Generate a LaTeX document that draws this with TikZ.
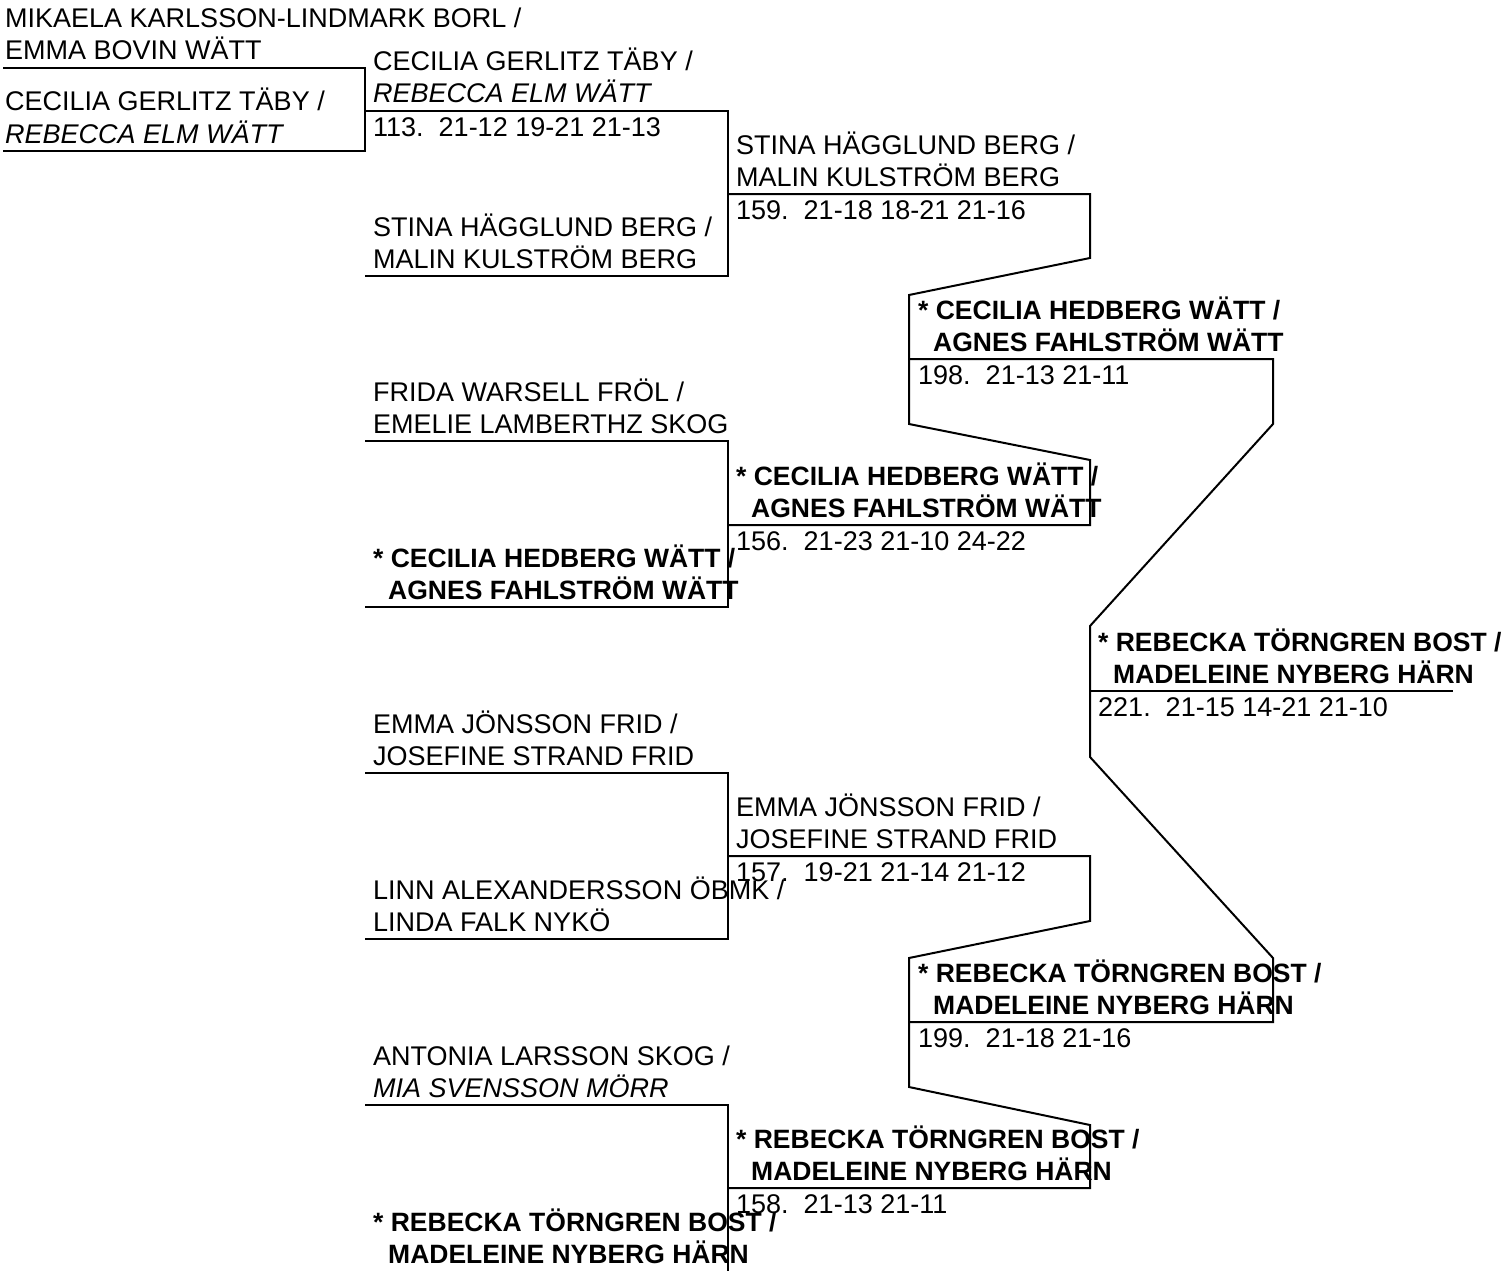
\documentclass[tikz,border=0pt]{standalone}
\usepackage{fontspec}
\setmainfont{Liberation Sans}
\begin{document}
\begin{tikzpicture}[x=1pt, y=-1pt,
    team/.style={anchor=base west, inner sep=0pt, font=\fontsize{27}{32}\selectfont},
    teamit/.style={team, font=\fontsize{27}{32}\selectfont\itshape},
    champ/.style={team, font=\fontsize{26.5}{32}\selectfont\bfseries},
    result/.style={team},
    bracket/.style={line width=2pt}]
    \useasboundingbox (0,0) rectangle (1512,1271);

    % round 1
    \draw[bracket] (3,68) -- (365,68) -- (365,151) -- (3,151);
    \node[team] (a1) at (5,28) {MIKAELA KARLSSON-LINDMARK BORL /};
    \node[team] (a2) at (5,60) {EMMA BOVIN WÄTT};
    \node[team] (b1) at (5,111) {CECILIA GERLITZ TÄBY /};
    \node[teamit] (b2) at (5,143) {REBECCA ELM WÄTT};

    % round 2
    \draw[bracket] (365,111) -- (728,111) -- (728,276) -- (365,276);
    \draw[bracket] (365,441) -- (728,441) -- (728,607) -- (365,607);
    \draw[bracket] (365,773) -- (728,773) -- (728,939) -- (365,939);
    \draw[bracket] (365,1105) -- (728,1105) -- (728,1272);
    \node[team] (c1) at (373,71) {CECILIA GERLITZ TÄBY /};
    \node[teamit] (c2) at (373,103) {REBECCA ELM WÄTT};
    \node[result] (s113) at (373,136) {113.\ \ 21-12 19-21 21-13};
    \node[team] (d1) at (373,236) {STINA HÄGGLUND BERG /};
    \node[team] (d2) at (373,268) {MALIN KULSTRÖM BERG};
    \node[team] (e1) at (373,401) {FRIDA WARSELL FRÖL /};
    \node[team] (e2) at (373,433) {EMELIE LAMBERTHZ SKOG};
    \node[champ] (f1) at (373,567) {* CECILIA HEDBERG WÄTT /};
    \node[champ] (f2) at (373,599) {\hspace*{15pt}AGNES FAHLSTRÖM WÄTT};
    \node[team] (g1) at (373,733) {EMMA JÖNSSON FRID /};
    \node[team] (g2) at (373,765) {JOSEFINE STRAND FRID};
    \node[team] (h1) at (373,899) {LINN ALEXANDERSSON ÖBMK /};
    \node[team] (h2) at (373,931) {LINDA FALK NYKÖ};
    \node[team] (i1) at (373,1065) {ANTONIA LARSSON SKOG /};
    \node[teamit] (i2) at (373,1097) {MIA SVENSSON MÖRR};
    \node[champ] (j1) at (373,1231) {* REBECKA TÖRNGREN BOST /};
    \node[champ] (j2) at (373,1263) {\hspace*{15pt}MADELEINE NYBERG HÄRN};

    % round 3
    \draw[bracket] (728,194) -- (1090,194) -- (1090,258) -- (909,295) -- (909,424)
        -- (1090,460) -- (1090,525) -- (728,525);
    \draw[bracket] (728,856) -- (1090,856) -- (1090,921) -- (909,958) -- (909,1087)
        -- (1090,1125) -- (1090,1188) -- (728,1188);
    \node[team] (k1) at (736,154) {STINA HÄGGLUND BERG /};
    \node[team] (k2) at (736,186) {MALIN KULSTRÖM BERG};
    \node[result] (s159) at (736,219) {159.\ \ 21-18 18-21 21-16};
    \node[champ] (l1) at (736,485) {* CECILIA HEDBERG WÄTT /};
    \node[champ] (l2) at (736,517) {\hspace*{15pt}AGNES FAHLSTRÖM WÄTT};
    \node[result] (s156) at (736,550) {156.\ \ 21-23 21-10 24-22};
    \node[team] (m1) at (736,816) {EMMA JÖNSSON FRID /};
    \node[team] (m2) at (736,848) {JOSEFINE STRAND FRID};
    \node[result] (s157) at (736,881) {157.\ \ 19-21 21-14 21-12};
    \node[champ] (n1) at (736,1148) {* REBECKA TÖRNGREN BOST /};
    \node[champ] (n2) at (736,1180) {\hspace*{15pt}MADELEINE NYBERG HÄRN};
    \node[result] (s158) at (736,1213) {158.\ \ 21-13 21-11};

    % round 4 (semi final)
    \draw[bracket] (909,359) -- (1273,359) -- (1273,424) -- (1090,626) -- (1090,757)
        -- (1273,958) -- (1273,1022) -- (909,1022);
    \node[champ] (o1) at (918,319) {* CECILIA HEDBERG WÄTT /};
    \node[champ] (o2) at (918,351) {\hspace*{15pt}AGNES FAHLSTRÖM WÄTT};
    \node[result] (s198) at (918,384) {198.\ \ 21-13 21-11};
    \node[champ] (p1) at (918,982) {* REBECKA TÖRNGREN BOST /};
    \node[champ] (p2) at (918,1014) {\hspace*{15pt}MADELEINE NYBERG HÄRN};
    \node[result] (s199) at (918,1047) {199.\ \ 21-18 21-16};

    % final
    \draw[bracket] (1090,691) -- (1453,691);
    \node[champ] (q1) at (1098,651) {* REBECKA TÖRNGREN BOST /};
    \node[champ] (q2) at (1098,683) {\hspace*{15pt}MADELEINE NYBERG HÄRN};
    \node[result] (s221) at (1098,716) {221.\ \ 21-15 14-21 21-10};
\end{tikzpicture}
\end{document}
